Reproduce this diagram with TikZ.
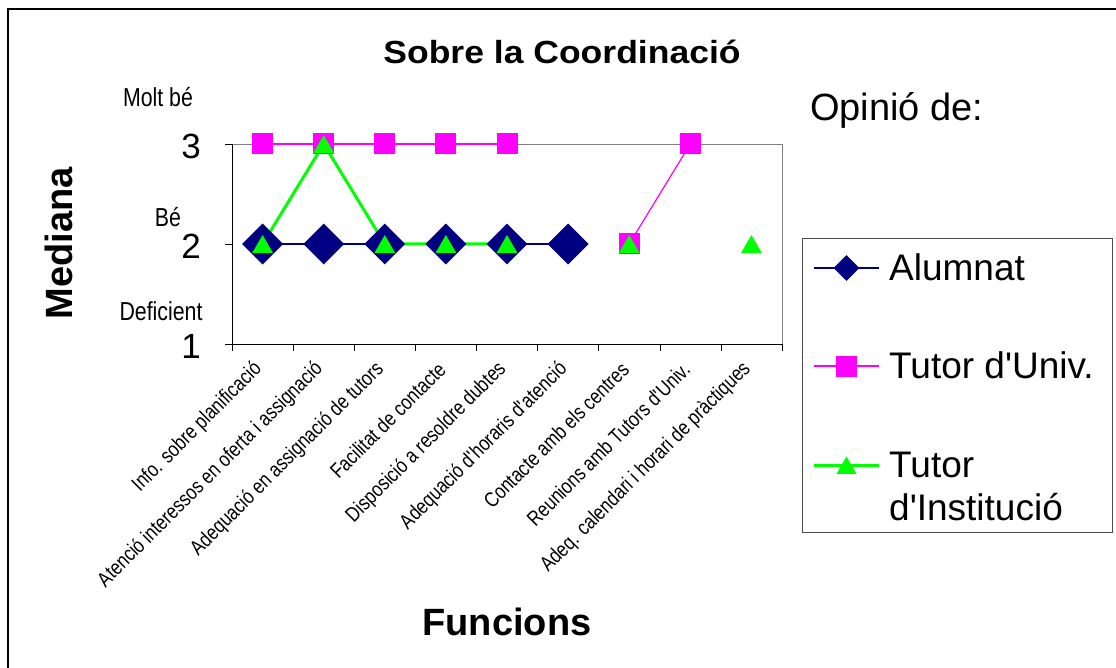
\documentclass[tikz,border=0pt]{standalone}
\usepackage{fontspec}
\setmainfont{Liberation Sans}
\newfontfamily\narrowfont[FakeStretch=0.82]{Liberation Sans}
\newfontfamily\widefont[FakeStretch=1.11]{Liberation Sans}
\usetikzlibrary{shapes.geometric, positioning}
\definecolor{alumnat}{RGB}{0,0,128}
\definecolor{univ}{RGB}{255,0,255}
\definecolor{inst}{RGB}{0,255,0}
\tikzstyle{alum} = [diamond, fill=alumnat, inner sep=0pt, minimum size=41pt]
\tikzstyle{tuniv} = [rectangle, fill=univ, inner sep=0pt, minimum size=21pt]
\tikzstyle{tinst} = [regular polygon, regular polygon sides=3, fill=inst, inner sep=0pt, minimum size=24pt, yshift=-3pt]
\tikzstyle{catlabel} = [anchor=east, rotate=45, inner sep=0pt, font=\narrowfont\fontsize{21}{21}\selectfont]
\tikzstyle{levellabel} = [anchor=base, inner sep=0pt, font=\narrowfont\fontsize{26}{26}\selectfont]
\tikzstyle{ticklabel} = [anchor=east, inner sep=0pt, font=\fontsize{35}{35}\selectfont]
\tikzstyle{legendtext} = [anchor=base west, inner sep=0pt, font=\fontsize{37}{37}\selectfont]

\begin{document}
\begin{tikzpicture}[x=1pt, y=-1pt]
        \useasboundingbox (0,0) rectangle (1116,668);
        % outer frame
        \draw[line width=1.5pt] (8,9) rectangle (1150,700);
        % titles
        \node (title) [anchor=base, font=\widefont\bfseries\fontsize{32}{32}\selectfont] at (562,64) {Sobre la Coordinació};
        \node (xtitle) [anchor=base, font=\bfseries\fontsize{38}{38}\selectfont] at (507,635) {Funcions};
        \node (ytitle) [anchor=base, rotate=90, font=\bfseries\fontsize{38}{38}\selectfont] at (72,243) {Mediana};
        \node (opinio) [anchor=base west, font=\fontsize{38}{38}\selectfont, inner sep=0pt] at (810,121) {Opinió de:};

        % plot area and axes
        \draw[gray] (232,144) -- (782,144) -- (782,344);
        \draw (232,144) -- (232,344) -- (782,344);
        \foreach \y in {144,244,344} \draw (225,\y) -- (232,\y);
        \foreach \k in {0,...,9} \draw ({232+61.11*\k},344) -- ({232+61.11*\k},351);
        \node (y3) [ticklabel] at (201,146) {3};
        \node (y2) [ticklabel] at (201,246) {2};
        \node (y1) [ticklabel] at (201,346) {1};
        \node (moltbe) [levellabel] at (158,107) {Molt bé};
        \node (be) [levellabel] at (168,227) {Bé};
        \node (deficient) [levellabel] at (161,320) {Deficient};

        % category labels
        \node (c1) [catlabel] at (258.6,366) {Info. sobre planificació};
        \node (c2) [catlabel] at (319.7,366) {Atenció interessos en oferta i assignació};
        \node (c3) [catlabel] at (380.8,366) {Adequació en assignació de tutors};
        \node (c4) [catlabel] at (441.9,366) {Facilitat de contacte};
        \node (c5) [catlabel] at (503.0,366) {Disposició a resoldre dubtes};
        \node (c6) [catlabel] at (564.1,366) {Adequació d\textquotesingle horaris d\textquotesingle atenció};
        \node (c7) [catlabel] at (625.2,366) {Contacte amb els centres};
        \node (c8) [catlabel] at (686.3,366) {Reunions amb Tutors d\textquotesingle Univ.};
        \node (c9) [catlabel] at (747.4,366) {Adeq. calendari i horari de pràctiques};

        % data points
        \coordinate (a1) at (262.6,244); \coordinate (a2) at (323.7,244); \coordinate (a3) at (384.8,244);
        \coordinate (a4) at (445.9,244); \coordinate (a5) at (507.0,244); \coordinate (a6) at (568.1,244);
        \coordinate (u1) at (262.6,144); \coordinate (u2) at (323.7,144); \coordinate (u3) at (384.8,144);
        \coordinate (u4) at (445.9,144); \coordinate (u5) at (507.0,144); \coordinate (u7) at (629.2,244);
        \coordinate (u8) at (690.3,144);
        \coordinate (t1) at (262.6,244); \coordinate (t2) at (323.7,144); \coordinate (t3) at (384.8,244);
        \coordinate (t4) at (445.9,244); \coordinate (t5) at (507.0,244); \coordinate (t7) at (629.2,244);
        \coordinate (t9) at (751.4,244);

        % series lines
        \draw[alumnat, line width=1.5pt] (a1) -- (a2) -- (a3) -- (a4) -- (a5) -- (a6);
        \draw[univ, line width=1.2pt] (u1) -- (u2) -- (u3) -- (u4) -- (u5);
        \draw[univ, line width=1.2pt] (u7) -- (u8);
        \draw[inst, line width=3pt] (t1) -- (t2) -- (t3) -- (t4) -- (t5);

        % markers
        \foreach \i in {1,...,6} \node (ma\i) [alum] at (a\i) {};
        \foreach \i in {1,2,3,4,5,7,8} \node (mu\i) [tuniv] at (u\i) {};
        \foreach \i in {1,2,3,4,5,7,9} \node (mt\i) [tinst] at (t\i) {};

        % legend
        \node (legend) [draw=gray!60!black, anchor=north west, minimum width=310pt, minimum height=294pt, inner sep=0pt] at (802,238) {};
        \coordinate (la1) at (814,268); \coordinate (la2) at (879,268);
        \coordinate (lu1) at (814,366); \coordinate (lu2) at (879,366);
        \coordinate (lt1) at (814,465); \coordinate (lt2) at (879,465);
        \draw[alumnat, line width=1.5pt] (la1) -- (la2);
        \draw[univ, line width=1.2pt] (lu1) -- (lu2);
        \draw[inst, line width=3pt] (lt1) -- (lt2);
        \node (lma) [alum, minimum size=26pt] at (846.5,268) {};
        \node (lmu) [tuniv] at (846.5,366) {};
        \node (lmt) [tinst, minimum size=23pt] at (846.5,465) {};
        \node (la) [legendtext] at (889,281) {Alumnat};
        \node (lu) [legendtext] at (889,378) {Tutor d\textquotesingle Univ.};
        \node (lt) [legendtext] at (889,477) {Tutor};
        \node (lt') [legendtext] at (889,520) {d\textquotesingle Institució};
\end{tikzpicture}
\end{document}
